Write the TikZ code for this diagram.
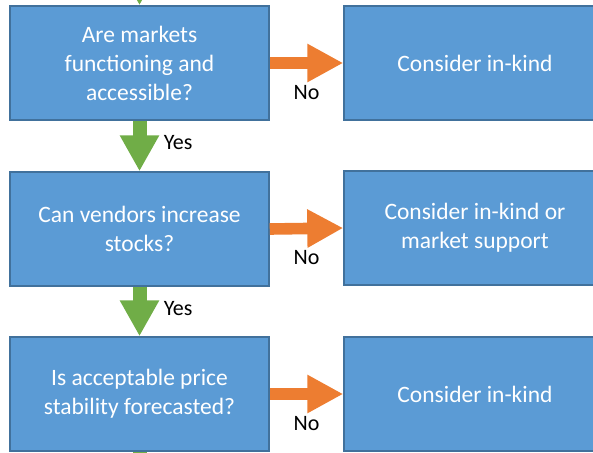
\documentclass[tikz,border=0pt]{standalone}
\usepackage{fontspec}
\setmainfont{Carlito}
\usetikzlibrary{arrows.meta}

\definecolor{boxblue}{HTML}{5B9BD5}
\definecolor{boxedge}{HTML}{41719C}
\definecolor{noorange}{HTML}{ED7D31}
\definecolor{yesgreen}{HTML}{70AD47}

\begin{document}
\begin{tikzpicture}[x=1pt, y=-1pt]
        \tikzstyle{question}=[rectangle,fill=boxblue,draw=boxedge,line width=1.5pt,minimum width=259pt,minimum height=114pt,align=center,text=white,font=\fontsize{23.5}{29}\selectfont]
        \tikzstyle{answer}=[question,minimum width=262pt]
        \tikzstyle{yes}=[draw=yesgreen,line width=14pt,-{Triangle[length=36pt,width=37pt]}]
        \tikzstyle{no}=[draw=noorange,line width=11.6pt,-{Triangle[length=36pt,width=36pt]}]
        \tikzstyle{label}=[text=black,font=\fontsize{22}{26}\selectfont]

        \useasboundingbox (0,0) rectangle (593,452);

        \node[question] (Q_1) at (139.5,63)  {Are markets\\functioning and\\accessible?};
        \node[question] (Q_2) at (139.5,229) {Can vendors increase\\stocks?};
        \node[question] (Q_3) at (139.5,394) {Is acceptable price\\stability forecasted?};

        \node[answer] (A_1) at (475,63)  {Consider in-kind};
        \node[answer] (A_2) at (475,228) {Consider in-kind or\\market support};
        \node[answer] (A_3) at (475,394) {Consider in-kind};

        \coordinate (in) at (139.5,-50);
        \coordinate (out) at (139.5,520);

        \draw[yes] (in) -- (Q_1.north);
        \draw[yes] (Q_1.south) -- (Q_2.north) node[midway,right=14pt,yshift=3pt,label] {Yes};
        \draw[yes] (Q_2.south) -- (Q_3.north) node[midway,right=14pt,yshift=3pt,label] {Yes};
        \draw[yes] (Q_3.south) -- (out);

        \draw[no] (Q_1.east) -- (A_1.west) node[midway,below=13pt,label] {No};
        \draw[no] (Q_2.east) -- (A_2.west) node[midway,below=13pt,label] {No};
        \draw[no] (Q_3.east) -- (A_3.west) node[midway,below=13pt,label] {No};
    \end{tikzpicture}
\end{document}
